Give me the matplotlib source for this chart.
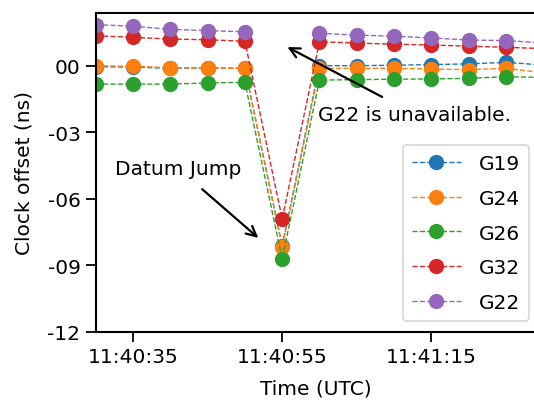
import datetime as dt
import matplotlib
matplotlib.use("Agg")
import matplotlib.pyplot as plt
import matplotlib.dates as mdates
import numpy as np

# ---- data ----
seconds = [30, 35, 40, 45, 50, 55, 60, 65, 70, 75, 80, 85, 90]  # seconds after 11:40:00
sats = ["G19", "G24", "G26", "G32", "G22"]
g19 = [-0.05, -0.06, -0.12, -0.10, -0.12, -8.13, 0.00, 0.00, 0.02, 0.05, 0.08, 0.15, 0.03]
g24 = [0.00, -0.03, -0.09, -0.12, -0.12, -8.16, -0.12, -0.12, -0.12, -0.15, -0.18, -0.12, -0.32]
g26 = [-0.83, -0.83, -0.83, -0.78, -0.75, -8.72, -0.65, -0.63, -0.61, -0.60, -0.57, -0.50, -0.53]
g32 = [1.35, 1.28, 1.20, 1.17, 1.10, -6.91, 1.08, 1.02, 0.97, 0.93, 0.88, 0.83, 0.77]
g22 = [1.85, 1.78, 1.64, 1.58, 1.53, np.nan, 1.46, 1.38, 1.33, 1.25, 1.16, 1.13, 1.03]
series = [g19, g24, g26, g32, g22]
colors = ["#1f77b4", "#ff7f0e", "#2ca02c", "#d62728", "#9467bd"]
yticks = [0, -3, -6, -9, -12]
ytick_labels = ["00", "-03", "-06", "-09", "-12"]
xtick_seconds = [35, 55, 75]

base = dt.datetime(2000, 1, 1, 11, 40, 0)
def t(s):
    return base + dt.timedelta(seconds=s)
times = [t(s) for s in seconds]

plt.rcParams["font.family"] = "DejaVu Sans"
fs = 14.5

fig = plt.figure(figsize=(5.34, 4.02), dpi=100)
ax = fig.add_axes([95.7 / 534, 1 - 332.7 / 402, 1 - 95.7 / 534 + 0.002, (332.7 - 13.7) / 402])

for name, vals, c in zip(sats, series, colors):
    ax.plot(times, vals, linestyle="--", linewidth=1.0, color=c, marker="o",
            markersize=10, label=name)

ax.set_xlim(t(30), t(88.9))
ax.set_ylim(-12, 2.39)
ax.set_yticks(yticks)
ax.set_yticklabels(ytick_labels)
ax.set_xticks([t(s) for s in xtick_seconds])
ax.xaxis.set_major_formatter(mdates.DateFormatter("%H:%M:%S"))
ax.tick_params(labelsize=fs, length=7, width=1.3, pad=4)
for sp in ax.spines.values():
    sp.set_linewidth(1.5)
ax.set_xlabel("Time (UTC)", fontsize=fs, labelpad=9)
ax.set_ylabel("Clock offset (ns)", fontsize=fs, labelpad=10)

ax.annotate("", xy=(t(55.7), 0.84), xytext=(t(68.4), -1.41),
            arrowprops=dict(arrowstyle="->", lw=1.6, color="black",
                            mutation_scale=18, shrinkA=0, shrinkB=0))
ax.text(t(59.8), -2.18, "G22 is unavailable.", fontsize=fs, ha="left", va="center")
ax.annotate("", xy=(t(51.8), -7.77), xytext=(t(44.27), -5.57),
            arrowprops=dict(arrowstyle="->", lw=1.6, color="black",
                            mutation_scale=18, shrinkA=0, shrinkB=0))
ax.text(t(32.6), -4.66, "Datum Jump", fontsize=fs, ha="left", va="center")

leg = ax.legend(loc="lower right", bbox_to_anchor=(529 / 534, 1 - 322 / 402),
                bbox_transform=fig.transFigure, borderaxespad=0, fontsize=fs,
                handlelength=2.4, labelspacing=0.78, handletextpad=0.9,
                borderpad=0.45, frameon=True, fancybox=True)
leg.get_frame().set_linewidth(1.2)

fig.savefig("out.png", dpi=100)
